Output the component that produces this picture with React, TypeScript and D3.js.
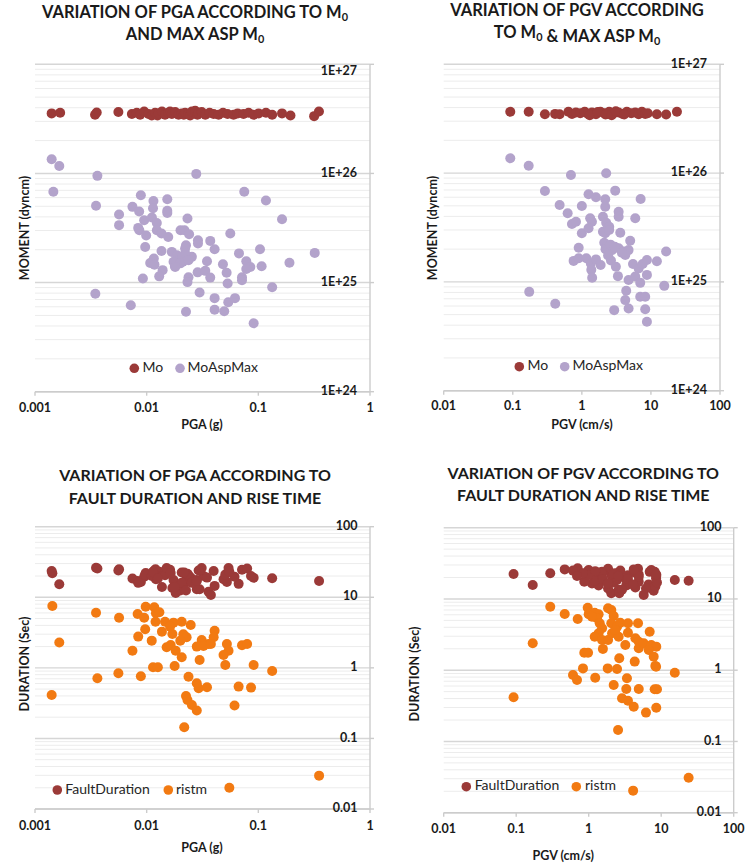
import React from 'react';
import * as d3 from 'd3';

// ---------- DATA ----------
// Top-left: moment vs PGA
const moVsPga: [number, number][] = [
  [0.00141, 3.55e26], [0.00168, 3.6e26], [0.00345, 3.45e26], [0.00357, 3.62e26], [0.00558, 3.65e26],
  [0.00737, 3.5e26], [0.00816, 3.6e26], [0.00874, 3.45e26], [0.0095, 3.7e26], [0.0104, 3.5e26],
  [0.0111, 3.4e26], [0.0119, 3.6e26], [0.0125, 3.4e26], [0.0128, 3.55e26], [0.0137, 3.7e26],
  [0.0146, 3.45e26], [0.0157, 3.6e26], [0.0162, 3.7e26], [0.0168, 3.5e26], [0.018, 3.65e26],
  [0.0193, 3.45e26], [0.0206, 3.55e26], [0.0215, 3.45e26], [0.0221, 3.6e26], [0.0237, 3.5e26],
  [0.0245, 3.4e26], [0.0254, 3.7e26], [0.0272, 3.75e26], [0.0285, 3.45e26], [0.0291, 3.55e26],
  [0.0311, 3.65e26], [0.0335, 3.45e26], [0.0366, 3.6e26], [0.0398, 3.5e26], [0.0441, 3.45e26],
  [0.0483, 3.6e26], [0.053, 3.5e26], [0.06, 3.45e26], [0.0653, 3.55e26], [0.0737, 3.5e26],
  [0.0818, 3.6e26], [0.0908, 3.45e26], [0.1006, 3.55e26], [0.117, 3.6e26], [0.133, 3.45e26],
  [0.163, 3.55e26], [0.194, 3.4e26], [0.316, 3.35e26], [0.349, 3.7e26],
];
const moAspVsPga: [number, number][] = [
  [0.00141, 1.35e26], [0.00165, 1.17e26], [0.00362, 9.5e25], [0.0278, 9.9e25], [0.00146, 6.8e25],
  [0.0748, 6.8e25], [0.00887, 6.3e25], [0.0115, 5.6e25], [0.0153, 5.8e25], [0.117, 5.65e25],
  [0.00352, 5.05e25], [0.00746, 4.94e25], [0.00857, 4.48e25], [0.0114, 4.8e25], [0.0153, 4.54e25],
  [0.0153, 4.35e25], [0.00566, 4.2e25], [0.0232, 3.86e25], [0.163, 3.81e25], [0.0095, 3.73e25],
  [0.01114, 3.94e25], [0.01233, 3.52e25], [0.00566, 3.36e25], [0.0084, 3.17e25], [0.0086, 3.02e25],
  [0.01233, 3.02e25], [0.01358, 2.82e25], [0.0201, 3.02e25], [0.0218, 3.02e25], [0.024, 2.77e25],
  [0.0156, 2.62e25], [0.0099, 2.7e25], [0.0561, 2.82e25], [0.0288, 2.44e25], [0.0288, 2.28e25],
  [0.0371, 2.41e25], [0.0097, 2.12e25], [0.0406, 2.02e25], [0.0225, 2.2e25], [0.0221, 2.05e25],
  [0.01358, 1.95e25], [0.1035, 2.02e25], [0.32, 1.87e25], [0.0671, 1.85e25], [0.0254, 1.72e25],
  [0.0116, 1.66e25], [0.01075, 1.51e25], [0.01175, 1.46e25], [0.0347, 1.57e25], [0.0482, 1.47e25],
  [0.078, 1.57e25], [0.0848, 1.39e25], [0.078, 1.33e25], [0.107, 1.41e25], [0.19, 1.52e25],
  [0.0179, 1.42e25], [0.0211, 1.55e25], [0.0139, 1.3e25], [0.0286, 1.24e25], [0.0335, 1.28e25],
  [0.052, 1.23e25], [0.00925, 1.09e25], [0.01295, 1.14e25], [0.0237, 1.12e25], [0.0371, 1.11e25],
  [0.0714, 1.12e25], [0.00347, 7.9e24], [0.00721, 6.2e24], [0.0225, 5.4e24], [0.0298, 8.1e24],
  [0.0406, 7.2e24], [0.0406, 5.65e24], [0.0495, 5.45e24], [0.0538, 6.6e24], [0.0618, 7.2e24],
  [0.0908, 4.24e24], [0.133, 9.06e24], [0.0531, 9.8e24], [0.0232, 1.01e25], [0.0714, 1.05e25],
  [0.0168, 1.91e25], [0.0187, 1.78e25], [0.0207, 1.66e25], [0.0174, 1.55e25], [0.02, 1.5e25],
  [0.0221, 1.85e25], [0.0237, 1.6e25], [0.018, 1.39e25],
];

// Top-right: moment vs PGV
const moVsPgv: [number, number][] = [
  [0.092, 3.67e26], [0.17, 3.67e26], [0.292, 3.47e26], [0.41, 3.5e26], [0.477, 3.47e26],
  [0.64, 3.67e26], [0.72, 3.5e26], [0.82, 3.6e26], [0.95, 3.55e26], [1.1, 3.67e26],
  [1.23, 3.5e26], [1.4, 3.6e26], [1.6, 3.47e26], [1.85, 3.67e26], [2.11, 3.55e26],
  [2.31, 3.5e26], [2.49, 3.67e26], [2.9, 3.55e26], [3.41, 3.6e26], [3.9, 3.5e26],
  [4.48, 3.67e26], [5.2, 3.55e26], [5.93, 3.6e26], [6.64, 3.47e26], [7.4, 3.67e26],
  [8.27, 3.5e26], [9.0, 3.55e26], [12.2, 3.47e26], [16.6, 3.45e26], [23.8, 3.67e26],
  [1.3, 3.4e26], [1.7, 3.65e26], [2.2, 3.45e26], [2.7, 3.4e26], [3.1, 3.7e26], [4.1, 3.45e26],
];
const moAspVsPgv: [number, number][] = [
  [0.092, 1.37e26], [0.17, 1.17e26], [0.695, 9.6e25], [2.25, 9.95e25], [0.292, 6.85e25],
  [1.25, 6.4e25], [1.6, 6.0e25], [2.18, 5.74e25], [3.04, 6.9e25], [7.1, 5.78e25],
  [0.477, 5.09e25], [1.0, 4.99e25], [2.18, 4.91e25], [0.623, 4.28e25], [1.32, 3.85e25],
  [2.02, 3.97e25], [3.41, 4.42e25], [3.41, 3.97e25], [5.93, 3.85e25], [0.719, 3.4e25],
  [0.822, 3.57e25], [1.4, 3.57e25], [2.25, 3.5e25], [2.49, 3.21e25], [1.0, 2.8e25],
  [1.25, 3.11e25], [2.02, 2.89e25], [2.18, 2.8e25], [2.49, 3.0e25], [3.6, 2.83e25],
  [0.9, 2.06e25], [2.11, 2.29e25], [2.31, 2.11e25], [2.73, 1.96e25], [3.41, 2.04e25],
  [4.03, 1.9e25], [4.75, 1.96e25], [5.01, 2.39e25], [16.6, 1.9e25], [0.76, 1.56e25],
  [0.9, 1.65e25], [1.16, 1.65e25], [1.35, 1.48e25], [1.6, 1.61e25], [1.87, 1.43e25],
  [1.37, 1.29e25], [1.41, 1.09e25], [2.64, 1.57e25], [3.11, 1.38e25], [3.33, 1.13e25],
  [4.25, 1.77e25], [5.5, 1.46e25], [6.64, 1.33e25], [7.59, 1.46e25], [8.75, 1.59e25],
  [12.2, 1.55e25], [4.75, 1.04e25], [5.93, 1.12e25], [7.0, 9.8e24], [8.75, 1.16e25],
  [15.6, 9.2e24], [0.173, 8.1e24], [0.412, 6.3e24], [4.39, 8.3e24], [4.25, 6.8e24],
  [4.75, 5.7e24], [2.94, 5.5e24], [7.0, 7.3e24], [8.27, 7.3e24], [8.27, 5.6e24],
  [8.75, 4.3e24], [2.2, 2.0e25], [2.6, 2.2e25], [3.0, 2.1e25], [3.8, 1.85e25], [2.4, 1.75e25],
];

// Bottom-left: [PGA, FaultDuration, ristm]
const durVsPga: [number, number, number][] = [
  [0.00143, 21.9, 7.53], [0.00141, 23.5, 0.413], [0.00165, 15.3, 2.28], [0.00352, 26.2, 6.05],
  [0.00362, 25.5, 0.713], [0.00566, 24.9, 5.14], [0.00558, 24.0, 0.839], [0.0083, 17.0, 5.8],
  [0.00746, 18.5, 1.75], [0.00887, 16.5, 0.76], [0.0098, 22.0, 7.36], [0.0117, 24.0, 7.21],
  [0.0095, 19.5, 5.14], [0.0121, 18.0, 5.94], [0.013, 23.0, 6.14], [0.012, 25.0, 4.51],
  [0.0146, 20.5, 4.51], [0.0174, 17.5, 4.37], [0.0206, 22.5, 4.51], [0.0248, 19.0, 4.05],
  [0.0097, 21.0, 3.52], [0.0084, 16.0, 2.77], [0.0137, 14.0, 3.26], [0.0162, 24.5, 3.84],
  [0.017, 13.5, 3.02], [0.0111, 20.0, 2.43], [0.0213, 15.0, 2.99], [0.0228, 18.5, 2.71],
  [0.02, 12.5, 2.43], [0.0406, 14.5, 3.36], [0.0398, 23.5, 2.71], [0.0311, 26.0, 2.48],
  [0.0358, 12.0, 2.18], [0.0281, 17.5, 2.0], [0.0323, 20.0, 2.04], [0.0376, 10.8, 2.18],
  [0.0151, 26.0, 1.96], [0.0164, 22.0, 2.11], [0.0523, 16.5, 2.18], [0.0541, 26.0, 1.75],
  [0.0714, 24.5, 2.09], [0.0794, 25.5, 2.18], [0.0182, 11.5, 1.75], [0.0206, 16.0, 1.41],
  [0.0488, 18.0, 1.52], [0.0506, 21.0, 1.1], [0.0298, 13.0, 1.29], [0.0908, 18.9, 1.1],
  [0.0114, 23.0, 1.02], [0.0126, 18.5, 1.02], [0.0178, 14.0, 1.06], [0.133, 18.6, 0.904],
  [0.0237, 20.5, 0.75], [0.0281, 13.0, 0.605], [0.0292, 24.0, 0.514], [0.0347, 19.0, 0.531],
  [0.0666, 15.5, 0.542], [0.086, 20.0, 0.525], [0.0225, 12.5, 0.4], [0.0232, 21.5, 0.351],
  [0.0254, 16.0, 0.298], [0.0281, 17.0, 0.248], [0.0612, 19.5, 0.292], [0.0217, 22.5, 0.144],
  [0.35, 17.0, 0.0297], [0.055, 23.0, 0.02],
];

// Bottom-right: [PGV, FaultDuration, ristm]
const durVsPgv: [number, number, number][] = [
  [0.295, 22.9, 7.78], [0.467, 26.0, 6.15], [0.705, 27.0, 5.23], [0.969, 24.5, 7.54], [1.0, 25.5, 6.09],
  [1.21, 19.0, 6.41], [1.37, 23.5, 6.09], [1.3, 21.0, 5.35], [1.11, 16.5, 5.64], [1.85, 26.5, 7.39],
  [2.05, 22.0, 7.0], [2.21, 17.0, 5.77], [1.42, 20.0, 4.55], [1.53, 24.0, 3.87], [1.37, 15.5, 3.3],
  [2.05, 12.0, 4.55], [2.46, 18.5, 4.08], [2.73, 25.0, 4.64], [3.48, 21.5, 4.55], [3.48, 16.0, 3.36],
  [4.79, 26.5, 4.55], [6.94, 24.0, 3.47], [1.21, 18.0, 2.95], [1.53, 22.5, 2.65], [1.85, 14.0, 2.65],
  [2.1, 20.5, 3.3], [2.59, 13.5, 2.95], [2.33, 23.0, 3.67], [3.2, 19.5, 2.26], [4.4, 14.5, 2.81],
  [4.9, 22.0, 2.51], [4.9, 17.5, 2.03], [5.74, 11.4, 2.39], [7.3, 25.5, 2.26], [8.55, 21.0, 2.14],
  [6.73, 16.0, 1.92], [7.88, 13.0, 1.55], [1.57, 19.0, 1.99], [0.869, 17.5, 1.76], [0.98, 21.5, 1.76],
  [2.64, 12.0, 1.47], [4.31, 23.5, 1.32], [8.3, 15.0, 1.15], [8.5, 19.5, 1.12], [0.834, 23.0, 1.06],
  [1.83, 16.5, 1.06], [2.46, 20.0, 1.04], [15.4, 18.4, 0.922], [0.607, 25.0, 0.857], [0.69, 21.0, 0.728],
  [1.23, 24.5, 0.785], [3.37, 18.0, 0.77], [2.21, 22.5, 0.62], [3.3, 15.5, 0.544], [4.9, 20.5, 0.544],
  [8.13, 24.0, 0.54], [8.75, 17.0, 0.54], [0.092, 22.4, 0.417], [2.88, 13.5, 0.403], [3.48, 19.0, 0.373],
  [4.18, 26.0, 0.307], [8.55, 22.0, 0.298], [6.17, 14.0, 0.254], [2.54, 21.0, 0.145], [23.9, 18.0, 0.031],
  [4.1, 16.0, 0.0204], [0.169, 15.7, 2.39],
];

const pgaTickLabels = ['0.001', '0.01', '0.1', '1'];
const pgvTickLabels = ['0.01', '0.1', '1', '10', '100'];
const momentTickLabels = ['1E+24', '1E+25', '1E+26', '1E+27'];
const durationTickLabels = ['0.01', '0.1', '1', '10', '100'];

const COLOR_MO = '#9b3a38';
const COLOR_ASP = '#b3a3cb';
const COLOR_RIST = '#f27a12';

const FONT = "Lato, 'Open Sans', sans-serif";

type Seg = { t: string; sub?: boolean };
type Series = { name: string; color: string; pts: [number, number][] };

type PanelProps = {
  left: number; right: number; top: number; bottom: number;
  xDomain: [number, number]; yDomain: [number, number];
  xLabels: string[]; yLabels: string[];
  xLabelY: number; yLabelX: number; topLabelDy?: number;
  title: { lines: Seg[][]; cx: number; ys: number[]; size: number };
  xTitle: { text: string; x: number; y: number };
  yTitle: { text: string; x: number; y: number };
  series: Series[];
  legend: { y: number; items: { x: number; textX: number }[] };
};

function TitleLine({ segs, x, y, size }: { segs: Seg[]; x: number; y: number; size: number }) {
  const parts: React.ReactNode[] = [];
  segs.forEach((s, i) => {
    if (s.sub) {
      parts.push(<tspan key={i} fontSize={size * 0.66} dy={4}>{s.t}</tspan>);
      if (i < segs.length - 1) parts.push(<tspan key={i + 'r'} dy={-4}>{''}</tspan>);
    } else {
      parts.push(<tspan key={i}>{s.t}</tspan>);
    }
  });
  return (
    <text x={x} y={y} textAnchor="middle" dominantBaseline="middle" fontFamily={FONT}
      fontWeight={700} fontSize={size} fill="#1a1a1a">{parts}</text>
  );
}

function Panel(p: PanelProps) {
  const x = d3.scaleLog().domain(p.xDomain).range([p.left, p.right]);
  const y = d3.scaleLog().domain(p.yDomain).range([p.bottom, p.top]);
  const xd = p.xDomain.map((v) => Math.round(Math.log10(v)));
  const yd = p.yDomain.map((v) => Math.round(Math.log10(v)));
  const xMajors = d3.range(xd[0], xd[1] + 1).map((e) => Math.pow(10, e));
  const yMajors = d3.range(yd[0], yd[1] + 1).map((e) => Math.pow(10, e));
  const yMinors: number[] = [];
  for (let e = yd[0]; e < yd[1]; e++) for (let m = 2; m <= 9; m++) yMinors.push(m * Math.pow(10, e));
  const axisColor = '#cccccc';

  return (
    <g>
      {p.title.lines.map((l, i) => (
        <TitleLine key={i} segs={l} x={p.title.cx} y={p.title.ys[i]} size={p.title.size} />
      ))}
      {yMinors.map((v, i) => (
        <line key={'mn' + i} x1={p.left} x2={p.right} y1={y(v)} y2={y(v)}
          stroke="#ececec" strokeWidth={1} />
      ))}
      {yMajors.map((v, i) => (
        <line key={'mj' + i} x1={p.left} x2={p.right} y1={y(v)} y2={y(v)}
          stroke="#d6d6d6" strokeWidth={1.4} />
      ))}
      <line x1={p.right} x2={p.right} y1={p.top} y2={p.bottom} stroke={axisColor} strokeWidth={1.4} />
      {yMajors.map((v, i) => (
        <line key={'yt' + i} x1={p.right} x2={p.right + 4} y1={y(v)} y2={y(v)} stroke={axisColor} strokeWidth={1.4} />
      ))}
      <line x1={p.left} x2={p.right} y1={p.bottom} y2={p.bottom} stroke={axisColor} strokeWidth={1.4} />
      {xMajors.map((v, i) => (
        <line key={'xt' + i} x1={x(v)} x2={x(v)} y1={p.bottom} y2={p.bottom + 4} stroke={axisColor} strokeWidth={1.4} />
      ))}
      {xMajors.map((v, i) => (
        <text key={'xl' + i} x={x(v)} y={p.xLabelY} textAnchor="middle" dominantBaseline="middle"
          fontFamily={FONT} fontWeight={700} fontSize={12.5} fill="#1a1a1a">{p.xLabels[i]}</text>
      ))}
      {yMajors.map((v, i) => (
        <text key={'yl' + i} x={p.yLabelX} y={y(v) + (i === yMajors.length - 1 ? p.topLabelDy || 0 : 0)}
          textAnchor="end" dominantBaseline="middle"
          fontFamily={FONT} fontWeight={700} fontSize={12.5} fill="#1a1a1a">{p.yLabels[i]}</text>
      ))}
      {p.series.map((s) => (
        <g key={s.name}>
          {s.pts.map((d, i) => (
            <circle key={i} cx={x(d[0])} cy={y(d[1])} r={5} fill={s.color} />
          ))}
        </g>
      ))}
      {p.series.map((s, i) => (
        <g key={'lg' + i}>
          <circle cx={p.legend.items[i].x} cy={p.legend.y} r={4.8} fill={s.color} />
          <text x={p.legend.items[i].textX} y={p.legend.y} dominantBaseline="middle"
            fontFamily={FONT} fontSize={14} fill="#262626">{s.name}</text>
        </g>
      ))}
      <text x={p.xTitle.x} y={p.xTitle.y} textAnchor="middle" dominantBaseline="middle"
        fontFamily={FONT} fontWeight={700} fontSize={12.5} fill="#1a1a1a">{p.xTitle.text}</text>
      <text transform={`translate(${p.yTitle.x},${p.yTitle.y}) rotate(-90)`} textAnchor="middle"
        dominantBaseline="middle" fontFamily={FONT} fontWeight={700} fontSize={12.5} fill="#1a1a1a">
        {p.yTitle.text}
      </text>
    </g>
  );
}

export default function App() {
  const p1: PanelProps = {
    left: 35, right: 370, top: 64.3, bottom: 391.7,
    xDomain: [0.001, 1], yDomain: [1e24, 1e27],
    xLabels: pgaTickLabels, yLabels: momentTickLabels,
    xLabelY: 408.3, yLabelX: 357, topLabelDy: 7,
    title: {
      lines: [
        [{ t: 'VARIATION OF PGA ACCORDING TO M' }, { t: '0', sub: true }],
        [{ t: 'AND MAX ASP M' }, { t: '0', sub: true }],
      ], cx: 195, ys: [13.5, 35.5], size: 16.5,
    },
    xTitle: { text: 'PGA (g)', x: 202, y: 426 },
    yTitle: { text: 'MOMENT (dyncm)', x: 26, y: 228 },
    series: [
      { name: 'Mo', color: COLOR_MO, pts: moVsPga },
      { name: 'MoAspMax', color: COLOR_ASP, pts: moAspVsPga },
    ],
    legend: { y: 368.3, items: [{ x: 134.3, textX: 142.5 }, { x: 180, textX: 187.5 }] },
  };
  const p2: PanelProps = {
    left: 443.7, right: 720, top: 64.3, bottom: 390.7,
    xDomain: [0.01, 100], yDomain: [1e24, 1e27],
    xLabels: pgvTickLabels, yLabels: momentTickLabels,
    xLabelY: 406.7, yLabelX: 707,
    title: {
      lines: [
        [{ t: 'VARIATION OF PGV ACCORDING' }],
        [{ t: 'TO M' }, { t: '0', sub: true }, { t: ' & MAX ASP M' }, { t: '0', sub: true }],
      ], cx: 577, ys: [12, 34], size: 16.5,
    },
    xTitle: { text: 'PGV (cm/s)', x: 582, y: 426 },
    yTitle: { text: 'MOMENT (dyncm)', x: 433.7, y: 228 },
    series: [
      { name: 'Mo', color: COLOR_MO, pts: moVsPgv },
      { name: 'MoAspMax', color: COLOR_ASP, pts: moAspVsPgv },
    ],
    legend: { y: 366.7, items: [{ x: 519.3, textX: 527.5 }, { x: 564.7, textX: 572.5 }] },
  };
  const p3: PanelProps = {
    left: 35, right: 370, top: 526.7, bottom: 809,
    xDomain: [0.001, 1], yDomain: [0.01, 100],
    xLabels: pgaTickLabels, yLabels: durationTickLabels,
    xLabelY: 826.7, yLabelX: 357.5,
    title: {
      lines: [
        [{ t: 'VARIATION OF PGA ACCORDING TO' }],
        [{ t: 'FAULT DURATION AND RISE TIME' }],
      ], cx: 195, ys: [476.7, 500], size: 16,
    },
    xTitle: { text: 'PGA (g)', x: 202, y: 848.3 },
    yTitle: { text: 'DURATION (Sec)', x: 26, y: 664 },
    series: [
      { name: 'FaultDuration', color: COLOR_MO, pts: durVsPga.map((d) => [d[0], d[1]] as [number, number]) },
      { name: 'ristm', color: COLOR_RIST, pts: durVsPga.map((d) => [d[0], d[2]] as [number, number]) },
    ],
    legend: { y: 790, items: [{ x: 57.3, textX: 65.3 }, { x: 168.3, textX: 176 }] },
  };
  const p4: PanelProps = {
    left: 443.7, right: 733.7, top: 527.7, bottom: 812.7,
    xDomain: [0.01, 100], yDomain: [0.01, 100],
    xLabels: pgvTickLabels, yLabels: durationTickLabels,
    xLabelY: 830, yLabelX: 721.5,
    title: {
      lines: [
        [{ t: 'VARIATION OF PGV ACCORDING TO' }],
        [{ t: 'FAULT DURATION AND RISE TIME' }],
      ], cx: 583.3, ys: [475, 496.7], size: 16,
    },
    xTitle: { text: 'PGV (cm/s)', x: 563.3, y: 856.7 },
    yTitle: { text: 'DURATION (Sec)', x: 416, y: 674 },
    series: [
      { name: 'FaultDuration', color: COLOR_MO, pts: durVsPgv.map((d) => [d[0], d[1]] as [number, number]) },
      { name: 'ristm', color: COLOR_RIST, pts: durVsPgv.map((d) => [d[0], d[2]] as [number, number]) },
    ],
    legend: { y: 786.7, items: [{ x: 466.3, textX: 474.7 }, { x: 576.3, textX: 585 }] },
  };

  return (
    <svg width={745} height={865} style={{ position: 'absolute', left: 0, top: 0, background: '#fff' }}>
      <rect x={0} y={0} width={745} height={865} fill="#fff" />
      <Panel {...p1} />
      <Panel {...p2} />
      <Panel {...p3} />
      <Panel {...p4} />
    </svg>
  );
}
